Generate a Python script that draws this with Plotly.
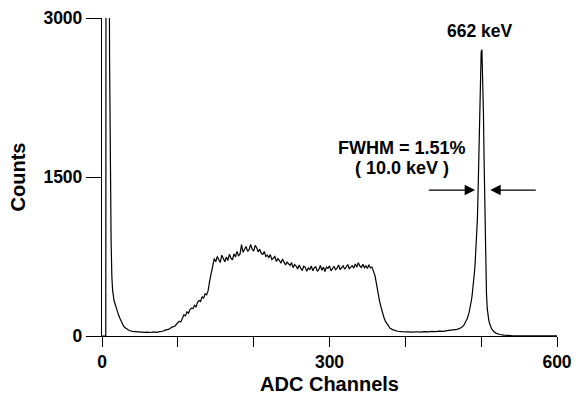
import plotly.graph_objects as go

# ---- data (channel, counts) ----
tail_ch = [0, 5, 6, 8, 9, 10, 11, 12, 13, 14, 16, 18, 20, 22, 24, 26, 28, 30, 33, 36, 40, 44, 48, 52, 56,
           60, 64, 68, 72, 76, 80, 84, 88, 92, 96, 100, 102, 104, 106, 108, 110, 112, 114, 116, 118, 120, 122,
           124, 126, 128, 130, 132, 134, 136, 138, 140, 142, 144, 146, 148]
tail_ct = [0, 0, 12000, 9000, 5000, 2600, 1500, 900, 560, 430, 330, 280, 240, 195, 160, 125, 100, 80, 62, 52,
           44, 40, 36, 38, 34, 37, 33, 38, 34, 42, 45, 58, 62, 84, 92, 125, 140, 132, 175, 200, 190, 228, 215,
           250, 262, 258, 290, 275, 318, 335, 325, 372, 355, 398, 388, 430, 520, 600, 690, 730]

plat_ch = list(range(150, 362, 2))
plat_ct = [700, 750, 720, 695, 762, 730, 700, 745, 712, 772, 735, 718, 775, 745, 798, 758, 772, 862, 790, 818,
           845, 798, 815, 865, 818, 802, 855, 832, 792, 820, 780, 770, 798, 750, 762, 740, 768, 720, 740, 750,
           702, 730, 712, 688, 725, 700, 670, 698, 680, 665, 692, 645, 675, 660, 632, 670, 640, 618, 658, 648,
           610, 642, 628, 660, 615, 645, 652, 610, 628, 665, 620, 648, 608, 650, 638, 662, 615, 632, 658, 626,
           640, 670, 626, 645, 662, 630, 652, 675, 636, 648, 664, 640, 680, 650, 692, 660, 646, 678, 644, 662,
           636, 672, 642, 650, 618, 570]

edge_ch = [362, 364, 366, 368, 370, 372, 374, 376, 378, 380, 383, 386, 390, 395, 400, 405, 410, 415, 420,
           425, 430, 435, 440, 445, 450, 455, 460, 465, 468, 471, 474, 477, 480, 482, 484, 486, 487]
edge_ct = [490, 400, 330, 270, 215, 170, 135, 110, 88, 72, 60, 52, 45, 42, 38, 40, 36, 40, 37, 42, 39, 44,
           41, 46, 44, 50, 52, 58, 62, 70, 80, 100, 135, 170, 220, 280, 330]

peak_ch = [488, 489, 490, 491, 492, 493, 494, 495, 496, 497, 498, 499, 500, 501, 502, 503, 504, 505, 506,
           507, 508, 509, 510, 511, 512, 514, 517, 520, 525, 530, 540, 560, 600]
peak_ct = [380, 440, 510, 590, 680, 790, 900, 1100, 1380, 1750, 2150, 2480, 2680, 2700, 2500, 2100, 1600,
           1050, 650, 400, 260, 190, 150, 120, 95, 65, 40, 25, 14, 8, 4, 2, 1]

channels = tail_ch + plat_ch + edge_ch + peak_ch
counts = tail_ct + plat_ct + edge_ct + peak_ct

x_tick_vals = [0, 100, 200, 300, 400, 500, 600]
x_tick_text = ["0", "", "", "300", "", "", "600"]
y_tick_vals = [0, 1500, 3000]
y_tick_text = ["0", "1500", "3000"]

FONT = "Liberation Sans, Arial, Helvetica, sans-serif"

fig = go.Figure()
fig.add_trace(go.Scatter(x=channels, y=counts, mode="lines",
                         line=dict(color="black", width=1.2), hoverinfo="skip"))

fig.update_layout(
    width=583, height=395,
    margin=dict(l=102, r=26, t=18, b=59, autoexpand=False),
    paper_bgcolor="white", plot_bgcolor="white",
    showlegend=False,
    font=dict(family=FONT, color="black", size=17.5, weight="bold"),
)
fig.update_xaxes(
    range=[0, 600], tickvals=x_tick_vals, ticktext=x_tick_text, automargin=False,
    ticks="outside", ticklen=10, tickwidth=1.3, tickcolor="black",
    showline=True, linecolor="black", linewidth=1.3, showgrid=False, zeroline=False,
    tickfont=dict(family=FONT, size=17.5, color="black", weight="bold"),
    title=dict(text="ADC Channels", font=dict(family=FONT, size=20, color="black", weight="bold"), standoff=11),
)
fig.update_yaxes(
    range=[0, 3000], tickvals=y_tick_vals, ticktext=y_tick_text, automargin=False,
    ticks="outside", ticklen=15, tickwidth=1.3, tickcolor="black",
    showline=True, linecolor="black", linewidth=1.3, showgrid=False, zeroline=False,
    tickfont=dict(family=FONT, size=17.5, color="black", weight="bold"),
    title=dict(text="Counts", font=dict(family=FONT, size=20, color="black", weight="bold"), standoff=12),
)

fig.add_annotation(x=498, y=2877, xref="x", yref="y", text="662 keV", showarrow=False,
                   font=dict(family=FONT, size=17.5, color="black", weight="bold"))
fig.add_annotation(x=396, y=1774, xref="x", yref="y", text="FWHM = 1.51%", showarrow=False,
                   font=dict(family=FONT, size=18, color="black", weight="bold"))
fig.add_annotation(x=396, y=1585, xref="x", yref="y", text="( 10.0 keV )", showarrow=False,
                   font=dict(family=FONT, size=18, color="black", weight="bold"))
# FWHM arrows
fig.add_annotation(x=492, y=1377, ax=429, ay=1377, xref="x", yref="y", axref="x", ayref="y",
                   text="", showarrow=True, arrowhead=2, arrowsize=1.6, arrowwidth=1.3, arrowcolor="black",
                   standoff=0, startstandoff=0)
fig.add_annotation(x=512, y=1377, ax=574, ay=1377, xref="x", yref="y", axref="x", ayref="y",
                   text="", showarrow=True, arrowhead=2, arrowsize=1.6, arrowwidth=1.3, arrowcolor="black",
                   standoff=0, startstandoff=0)

fig.write_html("out.html")
